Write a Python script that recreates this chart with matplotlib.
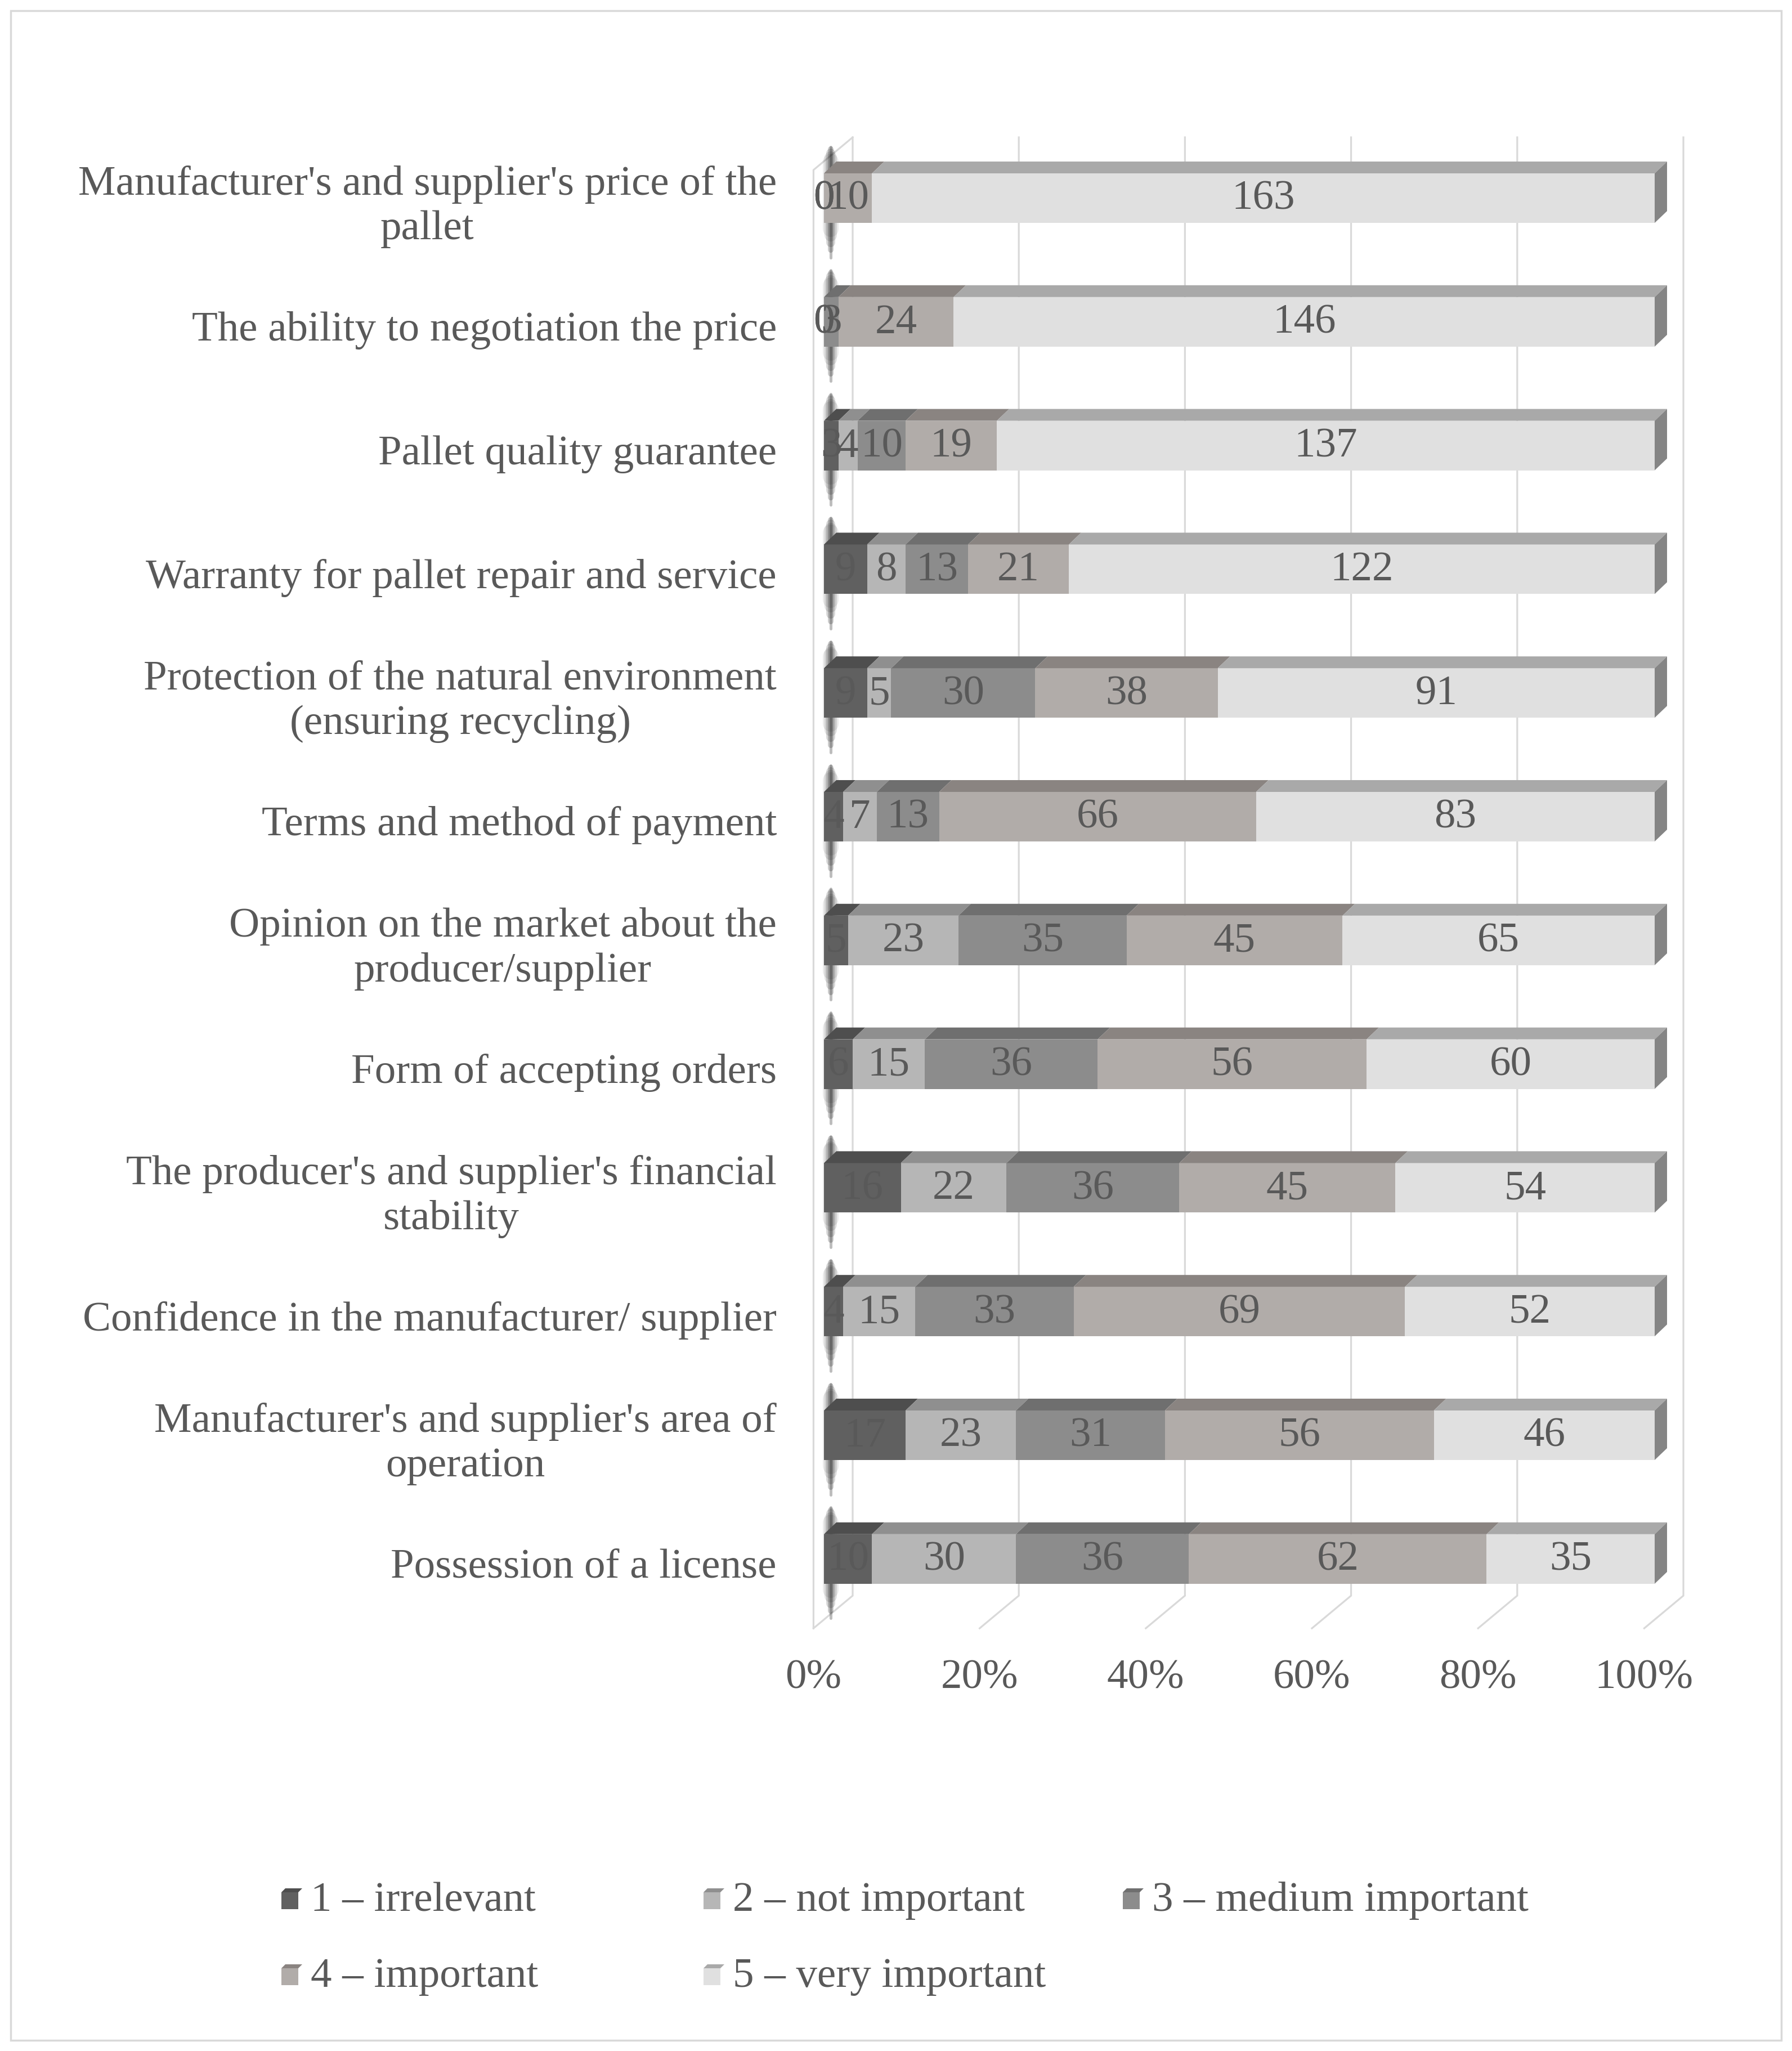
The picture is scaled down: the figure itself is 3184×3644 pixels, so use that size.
import matplotlib
matplotlib.use("Agg")
import matplotlib.pyplot as plt
from matplotlib.patches import Polygon, Rectangle
import numpy as np

# ---------------- data ----------------
categories = [
    "Manufacturer's and supplier's price of the\npallet",
    "The ability to negotiation the price",
    "Pallet quality guarantee",
    "Warranty for pallet repair and service",
    "Protection of the natural environment\n(ensuring recycling)",
    "Terms and method of payment",
    "Opinion on the market about the\nproducer/supplier",
    "Form of accepting orders",
    "The producer's and supplier's financial\nstability",
    "Confidence in the manufacturer/ supplier",
    "Manufacturer's and supplier's area of\noperation",
    "Possession of a license",
]
series_names = ["1 – irrelevant", "2 – not important", "3 – medium important",
                "4 – important", "5 – very important"]
irrelevant     = [0, 0, 3, 9, 9, 4, 5, 6, 16, 4, 17, 10]
not_important  = [0, 0, 4, 8, 5, 7, 23, 15, 22, 15, 23, 30]
medium         = [0, 3, 10, 13, 30, 13, 35, 36, 36, 33, 31, 36]
important      = [10, 24, 19, 21, 38, 66, 45, 56, 45, 69, 56, 62]
very_important = [163, 146, 137, 122, 91, 83, 65, 60, 54, 52, 46, 35]
tick_values = [0, 20, 40, 60, 80, 100]
tick_labels = ["0%", "20%", "40%", "60%", "80%", "100%"]

front_colors = ["#606060", "#b6b6b6", "#8c8c8c", "#b1aca9", "#e0e0e0"]
top_colors   = ["#4e4e4e", "#8f8f8f", "#6f6f6f", "#8a8481", "#a9a9a9"]
cap_color = "#858585"
text_color = "#595959"
grid_color = "#d9d9d9"
FONT = ["Liberation Serif", "DejaVu Serif"]
FS = 54

# ---------------- layout ----------------
W, H = 3184, 3644
fig = plt.figure(figsize=(W / 100, H / 100), dpi=100)

ax_x0, ax_x1 = 1464, 2940          # 0% .. 100% (front face), px
ax_top, ax_bot = 200, 2950          # px from top
row0_px, row_step = 352, 219.8      # px centre of first row, px per row
ax = fig.add_axes([ax_x0 / W, 1 - ax_bot / H, (ax_x1 - ax_x0) / W, (ax_bot - ax_top) / H])
ax.set_xlim(0, 100)
ax.set_ylim((ax_bot - row0_px) / row_step, -(row0_px - ax_top) / row_step)
ax.axis("off")

ux = 100 / (ax_x1 - ax_x0)          # data units per px (x)
uy = 1 / row_step                   # data units per px (y)
def py(p):
    return (p - row0_px) / row_step

# ---------------- walls / gridlines ----------------
back_dx, front_dx = 51 * ux, -18.6 * ux
y_back_top, y_back_bot = py(244), py(2835)
y_front_top, y_front_bot = py(302), py(2893)
glw = 2.3
for v in tick_values:
    ax.plot([v + back_dx, v + back_dx, v + front_dx],
            [y_back_top, y_back_bot, y_front_bot],
            color=grid_color, lw=glw, zorder=1, clip_on=False, solid_joinstyle="miter")
# left wall front edge and top edge
ax.plot([front_dx, front_dx, back_dx], [y_front_bot, y_front_top, y_back_top],
        color=grid_color, lw=glw, zorder=1, clip_on=False)

for v, lab in zip(tick_values, tick_labels):
    ax.text(v + front_dx, py(2982), lab, ha="center", va="center", fontsize=FS,
            color=text_color, family=FONT, clip_on=False)

# ---------------- bars ----------------
data = np.array([irrelevant, not_important, medium, important, very_important], dtype=float)
totals = data.sum(axis=0)
pct = data / totals * 100
n = len(categories)
ypos = np.arange(n)
bh = 88 * uy
ddx, ddy = 22 * ux, 21 * uy

# blurred shadows on the left wall
for i in ypos:
    yt, yb = i - bh / 2, i + bh / 2
    for lw, a, ext_t, ext_b in [(28, 0.08, 0.0, 0.05), (22, 0.11, 0.03, 0.10),
                                (16, 0.15, 0.07, 0.16), (10, 0.2, 0.10, 0.22),
                                (5, 0.26, 0.12, 0.28)]:
        ax.plot([12 * ux, 12 * ux], [yt - ddy - ext_t, yb + ext_b], color="black",
                lw=lw * 0.72, alpha=a, solid_capstyle="round", zorder=2, clip_on=False)

left = np.zeros(n)
for s in range(5):
    ax.barh(ypos, pct[s], left=left, height=bh, color=front_colors[s], zorder=3,
            linewidth=0)
    left = left + pct[s]

left = np.zeros(n)
for s in range(5):
    for i in ypos:
        L, w = left[i], pct[s][i]
        if w <= 0:
            continue
        yt = i - bh / 2
        ax.add_patch(Polygon([(L, yt), (L + w, yt), (L + w + ddx, yt - ddy), (L + ddx, yt - ddy)],
                             closed=True, facecolor=top_colors[s], edgecolor="none",
                             zorder=4, clip_on=False))
    left = left + pct[s]

for i in ypos:
    yt, yb = i - bh / 2, i + bh / 2
    ax.add_patch(Polygon([(100, yt), (100, yb), (100 + ddx, yb - ddy), (100 + ddx, yt - ddy)],
                         closed=True, facecolor=cap_color, edgecolor="none", zorder=5,
                         clip_on=False))

# value labels
left = np.zeros(n)
for s in range(5):
    for i in ypos:
        ax.text(left[i] + pct[s][i] / 2, i + 0.01, f"{int(data[s][i])}", ha="center",
                va="center", fontsize=FS, color=text_color, family=FONT, zorder=6)
    left = left + pct[s]

# category labels
for i, c in enumerate(categories):
    ax.text(-84 * ux, i + 0.07, c, ha="right", va="center", multialignment="center",
            fontsize=FS, color=text_color, family=FONT, linespacing=1.22, clip_on=False)

# ---------------- legend ----------------
leg_pos = [(500, 3377), (1250, 3377), (1995, 3377), (500, 3512), (1250, 3512)]
for s, (lx, ly) in enumerate(leg_pos):
    sq = 30
    fig.patches.append(Rectangle((lx / W, 1 - (ly + sq / 2) / H), sq / W, sq / H,
                                 transform=fig.transFigure, facecolor=front_colors[s],
                                 edgecolor="none"))
    fig.patches.append(Polygon([(lx / W, 1 - (ly - sq / 2) / H), ((lx + sq) / W, 1 - (ly - sq / 2) / H),
                                ((lx + sq + 7) / W, 1 - (ly - sq / 2 - 7) / H), ((lx + 7) / W, 1 - (ly - sq / 2 - 7) / H)],
                               closed=True, transform=fig.transFigure, facecolor=top_colors[s],
                               edgecolor="none"))
    fig.text((lx + 52) / W, 1 - ly / H, series_names[s], ha="left", va="center",
             fontsize=FS, color=text_color, family=FONT)

# figure border
fig.patches.append(Rectangle((19 / W, 19 / H), (W - 38) / W, (H - 38) / H,
                             transform=fig.transFigure, fill=False,
                             edgecolor=grid_color, linewidth=2.5))

fig.savefig("out.png", dpi=100, facecolor="white")
